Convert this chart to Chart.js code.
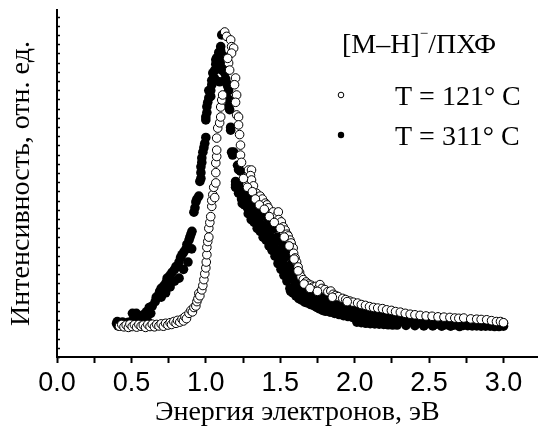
<!DOCTYPE html>
<html>
<head>
<meta charset="utf-8">
<script src="https://cdn.jsdelivr.net/npm/chart.js@4.4.1/dist/chart.umd.min.js"></script>
<style>
  html, body { margin: 0; padding: 0; background: #fff; }
</style>
</head>
<body>
<canvas id="chart" width="543" height="427"></canvas>
<script>
// Tick labels of the energy axis
const xTickLabels = ['0.0', '0.5', '1.0', '1.5', '2.0', '2.5', '3.0'];

// Legend texts
const legendTitle = ['[M–H]', '−', '/ПХФ'];
const seriesNames = ['T = 121° C', 'T = 311° C'];

// T = 121 C (open circles): [energy, eV ; intensity, rel. units]
const points121 = [
  [0.42,-0.004],[0.435,0.002],[0.45,-0.006],[0.465,0.0],[0.48,-0.008],[0.49,0.003],[0.505,-0.005],[0.52,0.001],
  [0.535,-0.007],[0.55,0.002],[0.565,-0.004],[0.58,0.0],[0.595,-0.008],[0.61,0.002],[0.625,-0.005],[0.64,0.003],
  [0.655,-0.006],[0.67,0.002],[0.685,-0.003],[0.70,0.004],[0.715,-0.004],[0.73,0.006],[0.745,0.0],[0.76,0.008],
  [0.77,0.002],[0.785,0.012],[0.80,0.006],[0.81,0.016],[0.825,0.01],[0.84,0.02],[0.85,0.014],[0.86,0.028],
  [0.87,0.022],[0.887,0.04],[0.90,0.05],[0.91,0.045],[0.92,0.06],[0.933,0.065],[0.94,0.08],[0.947,0.09],
  [0.953,0.108],[0.96,0.10],[0.973,0.12],[0.98,0.135],[0.987,0.155],[0.993,0.175],[1.0,0.195],[1.003,0.215],
  [1.007,0.24],[1.007,0.265],[1.013,0.285],[1.02,0.30],[1.02,0.33],[1.027,0.35],[1.033,0.37],[1.04,0.405],
  [1.04,0.425],[1.047,0.445],[1.053,0.47],[1.06,0.435],[1.067,0.485],[1.067,0.52],[1.067,0.553],[1.073,0.575],
  [1.073,0.597],[1.073,0.638],[1.08,0.672],[1.093,0.69],[1.10,0.71],[1.10,0.744],[1.107,0.768],[1.113,0.785],
  [1.127,1.0],[1.14,0.985],[1.167,0.973],[1.173,0.95],[1.187,0.945],[1.173,0.928],[1.153,0.894],[1.147,0.91],
  [1.16,0.87],[1.2,0.843],[1.193,0.82],[1.207,0.785],[1.20,0.76],[1.207,0.717],[1.22,0.71],[1.22,0.683],
  [1.227,0.65],[1.233,0.614],[1.233,0.58],[1.24,0.555],[1.273,0.505],[1.287,0.529],[1.307,0.529],[1.30,0.51],
  [1.307,0.495],[1.32,0.475],[1.34,0.45],[1.353,0.427],[1.365,0.44],[1.38,0.43],[1.40,0.416],[1.41,0.41],
  [1.42,0.40],[1.44,0.38],[1.453,0.386],[1.47,0.37],[1.487,0.386],[1.49,0.36],[1.507,0.352],[1.52,0.335],
  [1.533,0.324],[1.545,0.31],[1.553,0.304],[1.565,0.29],[1.573,0.28],[1.587,0.263],[1.59,0.245],[1.60,0.229],
  [1.61,0.215],[1.62,0.198],[1.63,0.18],[1.64,0.165],[1.655,0.155],[1.673,0.147],[1.69,0.14],[1.707,0.136],
  [1.72,0.13],[1.74,0.132],[1.755,0.124],[1.767,0.138],[1.78,0.125],[1.80,0.121],[1.82,0.114],[1.84,0.116],
  [1.855,0.105],[1.873,0.101],[1.89,0.097],[1.92,0.091],[1.94,0.087],[1.967,0.082],[1.99,0.078],[2.02,0.075],
  [2.045,0.07],[2.073,0.067],[2.1,0.063],[2.127,0.06],[2.155,0.058],[2.187,0.056],[2.215,0.052],[2.247,0.05],
  [2.275,0.046],[2.307,0.044],[2.34,0.04],[2.373,0.037],[2.405,0.035],[2.44,0.033],[2.48,0.031],[2.52,0.03],
  [2.56,0.028],[2.60,0.027],[2.64,0.026],[2.673,0.024],[2.70,0.023],[2.733,0.024],[2.78,0.021],[2.82,0.02],
  [2.85,0.019],[2.887,0.018],[2.92,0.015],[2.953,0.012],[2.98,0.012],[3.0,0.008],
  [1.253,0.50],[1.28,0.47],[1.313,0.455],[1.333,0.43],[1.36,0.41],[1.393,0.395],[1.427,0.37],[1.46,0.35],
  [1.50,0.33],[1.527,0.30],[1.56,0.27],[1.593,0.225],[1.62,0.185],[1.66,0.14],[1.70,0.125],[1.75,0.115],
  [1.85,0.095],[1.95,0.08]
];

// T = 311 C (filled circles)
const points311 = [
  [0.40,0.005],[0.405,0.012],[0.41,-0.003],[0.42,0.008],[0.43,0.0],[0.44,0.01],[0.45,0.003],[0.46,0.007],
  [0.47,-0.002],[0.48,0.009],[0.49,0.004],[0.50,0.012],[0.507,0.04],[0.51,0.002],[0.52,0.025],[0.53,0.008],
  [0.533,0.04],[0.55,0.015],[0.56,0.03],[0.57,0.005],[0.58,0.035],[0.59,0.02],[0.60,0.045],[0.61,0.012],
  [0.62,0.06],[0.63,0.04],[0.64,0.065],[0.66,0.08],[0.667,0.095],[0.68,0.1],[0.69,0.115],[0.70,0.125],
  [0.72,0.135],[0.733,0.145],[0.74,0.16],[0.76,0.17],[0.773,0.18],[0.79,0.19],[0.80,0.2],[0.82,0.215],
  [0.83,0.23],[0.84,0.24],[0.853,0.25],[0.867,0.26],[0.873,0.275],[0.887,0.29],[0.893,0.3],[0.90,0.31],
  [0.907,0.32],
  [0.70,0.095],[0.73,0.11],[0.76,0.13],[0.79,0.15],[0.82,0.16],[0.85,0.19],[0.88,0.215],[0.905,0.26],
  [0.92,0.385],[0.927,0.40],[0.933,0.42],[0.94,0.43],[0.953,0.44],[0.96,0.49],[0.967,0.50],[0.967,0.52],
  [0.967,0.54],[0.973,0.555],[0.973,0.57],[0.98,0.59],[0.987,0.605],[0.993,0.62],[1.0,0.64],[1.0,0.70],
  [1.0,0.71],[1.007,0.725],[1.007,0.745],[1.013,0.76],[1.02,0.775],[1.033,0.78],[1.033,0.80],[1.04,0.82],
  [1.04,0.835],[1.053,0.845],[1.06,0.87],[1.067,0.89],[1.067,0.905],[1.073,0.912],[1.087,0.93],[1.10,0.95],
  [1.10,0.935],[1.107,0.99],
  [1.02,0.80],[1.047,0.86],[1.06,0.84],[1.087,0.89],[1.113,0.92],[1.12,0.91],[1.107,0.87],[1.093,0.83],
  [1.12,0.88],[1.127,0.86],[1.133,0.87],[1.133,0.84],[1.14,0.826],[1.147,0.815],[1.153,0.80],[1.153,0.77],
  [1.153,0.745],[1.16,0.735],[1.167,0.675],[1.167,0.665],[1.173,0.59],[1.18,0.58],[1.187,0.59],[1.213,0.545],
  [1.22,0.53],[1.233,0.525],[1.20,0.478],[1.22,0.485],[1.24,0.45],[1.267,0.45],
  [1.20,0.49],[1.20,0.47],[1.22,0.48],[1.22,0.45],[1.24,0.46],[1.24,0.43],[1.245,0.415],[1.26,0.45],
  [1.26,0.41],[1.28,0.44],[1.28,0.40],[1.285,0.38],[1.30,0.43],[1.30,0.39],[1.305,0.36],[1.32,0.42],
  [1.32,0.38],[1.325,0.35],[1.34,0.41],[1.34,0.37],[1.345,0.33],[1.36,0.40],[1.36,0.36],[1.365,0.32],
  [1.38,0.385],[1.38,0.34],[1.385,0.30],[1.40,0.375],[1.40,0.33],[1.405,0.29],[1.42,0.36],[1.42,0.32],
  [1.425,0.27],[1.44,0.345],[1.44,0.30],[1.445,0.255],[1.46,0.33],[1.46,0.28],[1.465,0.235],[1.48,0.30],
  [1.48,0.255],[1.485,0.21],[1.50,0.285],[1.50,0.24],[1.505,0.19],[1.52,0.27],[1.52,0.22],[1.525,0.17],
  [1.54,0.25],[1.54,0.20],[1.545,0.15],[1.56,0.235],[1.56,0.18],[1.565,0.125],[1.57,0.115],[1.58,0.21],
  [1.58,0.16],[1.585,0.11],[1.60,0.19],[1.60,0.145],[1.605,0.10],[1.62,0.17],[1.62,0.13],[1.625,0.09],
  [1.64,0.155],[1.64,0.12],[1.645,0.085],[1.66,0.145],[1.66,0.11],[1.665,0.078],[1.68,0.135],[1.68,0.10],
  [1.685,0.075],[1.70,0.125],[1.70,0.095],[1.705,0.07],[1.72,0.115],[1.72,0.09],[1.725,0.066],[1.74,0.11],
  [1.74,0.08],[1.745,0.06],[1.76,0.10],[1.76,0.075],[1.765,0.055],[1.78,0.095],[1.78,0.07],[1.785,0.05],
  [1.80,0.09],[1.80,0.065],[1.805,0.047],[1.83,0.085],[1.83,0.06],[1.835,0.044],[1.86,0.08],[1.86,0.055],
  [1.865,0.04],[1.89,0.075],[1.89,0.05],[1.895,0.036],[1.92,0.07],[1.92,0.047],[1.925,0.032],[1.95,0.065],
  [1.95,0.043],[1.955,0.029],[1.98,0.06],[1.98,0.04],[1.985,0.026],
  [2.01,0.058],[2.01,0.035],[2.015,0.01],[2.04,0.054],[2.04,0.032],[2.045,0.008],[2.07,0.05],[2.07,0.028],
  [2.075,0.006],[2.10,0.047],[2.10,0.026],[2.105,0.005],[2.13,0.044],[2.13,0.024],[2.135,0.004],[2.16,0.041],
  [2.16,0.022],[2.165,0.003],[2.19,0.038],[2.19,0.02],[2.195,0.002],[2.22,0.036],[2.22,0.018],[2.225,0.001],
  [2.25,0.034],[2.25,0.016],[2.255,0.0],[2.28,0.032],[2.28,0.015],[2.285,0.0],[2.31,0.03],[2.31,0.013],
  [2.34,0.028],[2.34,0.011],[2.345,-0.001],[2.37,0.026],[2.37,0.01],[2.40,0.025],[2.40,0.008],[2.405,-0.002],
  [2.43,0.023],[2.43,0.007],[2.46,0.022],[2.46,0.006],[2.465,-0.003],[2.49,0.02],[2.49,0.005],[2.52,0.019],
  [2.52,0.004],[2.525,-0.003],[2.55,0.018],[2.55,0.003],[2.58,0.017],[2.58,0.002],[2.585,-0.004],[2.61,0.016],
  [2.61,0.001],[2.64,0.015],[2.64,0.0],[2.645,-0.004],[2.67,0.014],[2.67,0.0],[2.70,0.013],[2.70,-0.001],
  [2.705,-0.005],[2.73,0.012],[2.73,-0.001],[2.76,0.011],[2.76,-0.002],[2.79,0.01],[2.79,-0.003],[2.82,0.01],
  [2.82,-0.003],[2.85,0.009],[2.85,-0.004],[2.88,0.009],[2.88,-0.004],[2.91,0.008],[2.91,-0.004],[2.94,0.008],
  [2.94,-0.005],[2.97,0.007],[2.97,-0.005],[3.00,0.006],[3.00,-0.004]
];

const SERIF = '"Liberation Serif", "Times New Roman", serif';
const SANS = '"Liberation Sans", Arial, sans-serif';

function toXY(list) {
  return list.map(p => ({ x: p[0], y: p[1] }));
}

// small ticks on the inner side of the intensity axis
const innerTicks = {
  id: 'innerTicks',
  afterDraw(chart) {
    const ctx = chart.ctx;
    const ys = chart.scales.y;
    const left = chart.chartArea.left;
    ctx.save();
    ctx.strokeStyle = '#000';
    ctx.lineWidth = 1.5;
    ys.ticks.forEach(t => {
      const py = Math.round(ys.getPixelForValue(t.value)) + 0.5;
      ctx.beginPath();
      ctx.moveTo(left, py);
      ctx.lineTo(left + 3, py);
      ctx.stroke();
    });
    ctx.restore();
  }
};

// legend in the upper right corner
const legendBox = {
  id: 'legendBox',
  afterDraw(chart) {
    const ctx = chart.ctx;
    ctx.save();
    ctx.fillStyle = '#000';
    ctx.textBaseline = 'alphabetic';
    ctx.font = '28px ' + SERIF;
    let x = 342;
    ctx.fillText(legendTitle[0], x, 53);
    x += ctx.measureText(legendTitle[0]).width;
    ctx.font = '15px ' + SERIF;
    ctx.fillText(legendTitle[1], x, 38);
    x += ctx.measureText(legendTitle[1]).width;
    ctx.font = '28px ' + SERIF;
    ctx.fillText(legendTitle[2], x, 53);

    ctx.fillText(seriesNames[0], 395, 105);
    ctx.fillText(seriesNames[1], 395, 145);

    ctx.lineWidth = 1;
    ctx.strokeStyle = '#000';
    ctx.beginPath();
    ctx.arc(341, 95, 2.8, 0, Math.PI * 2);
    ctx.fillStyle = '#fff';
    ctx.fill();
    ctx.stroke();
    ctx.beginPath();
    ctx.arc(341, 135, 3.2, 0, Math.PI * 2);
    ctx.fillStyle = '#000';
    ctx.fill();
    ctx.restore();
  }
};

const ctx = document.getElementById('chart').getContext('2d');
new Chart(ctx, {
  type: 'scatter',
  data: {
    datasets: [
      {
        label: seriesNames[0],
        data: toXY(points121),
        pointRadius: 4.3,
        pointBackgroundColor: '#fff',
        pointBorderColor: '#000',
        pointBorderWidth: 1
      },
      {
        label: seriesNames[1],
        data: toXY(points311),
        pointRadius: 4.8,
        pointBackgroundColor: '#000',
        pointBorderColor: '#000',
        pointBorderWidth: 0
      }
    ]
  },
  options: {
    responsive: false,
    animation: false,
    devicePixelRatio: 1,
    layout: { padding: { top: 10, left: 0, right: 0, bottom: 0 } },
    plugins: {
      legend: { display: false },
      tooltip: { enabled: false }
    },
    scales: {
      x: {
        type: 'linear',
        position: 'bottom',
        min: 0,
        max: 3.23,
        afterBuildTicks: s => {
          const list = [];
          for (let k = 0; k <= 12; k++) list.push({ value: k * 0.25 });
          s.ticks = list;
        },
        afterFit: s => { s.height = 70; },
        ticks: {
          autoSkip: false,
          maxRotation: 0,
          padding: 4,
          color: '#000',
          font: { family: SANS, size: 27 },
          callback: v => {
            const k = v * 2;
            return Math.abs(k - Math.round(k)) < 1e-6 ? xTickLabels[Math.round(k)] : '';
          }
        },
        grid: {
          drawOnChartArea: false,
          drawTicks: true,
          tickLength: 6,
          tickWidth: 2,
          tickColor: '#000'
        },
        border: { display: true, width: 2, color: '#000' },
        title: {
          display: true,
          text: 'Энергия электронов, эВ',
          color: '#000',
          font: { family: SERIF, size: 28, lineHeight: 1 },
          padding: 0
        }
      },
      y: {
        type: 'linear',
        min: -0.109,
        max: 1.075,
        afterBuildTicks: s => {
          const list = [];
          for (let v = s.min; v <= s.max + 1e-9; v += 0.0314) list.push({ value: v });
          s.ticks = list;
        },
        afterFit: s => { s.width = 57; },
        ticks: { display: false },
        grid: { display: true, drawOnChartArea: false, drawTicks: false },
        border: { display: true, width: 2, color: '#000' },
        title: {
          display: true,
          text: 'Интенсивность, отн. ед.',
          color: '#000',
          font: { family: SERIF, size: 28, lineHeight: 1 },
          padding: { top: 8, bottom: 0 }
        }
      }
    }
  },
  plugins: [innerTicks, legendBox]
});
</script>
</body>
</html>
